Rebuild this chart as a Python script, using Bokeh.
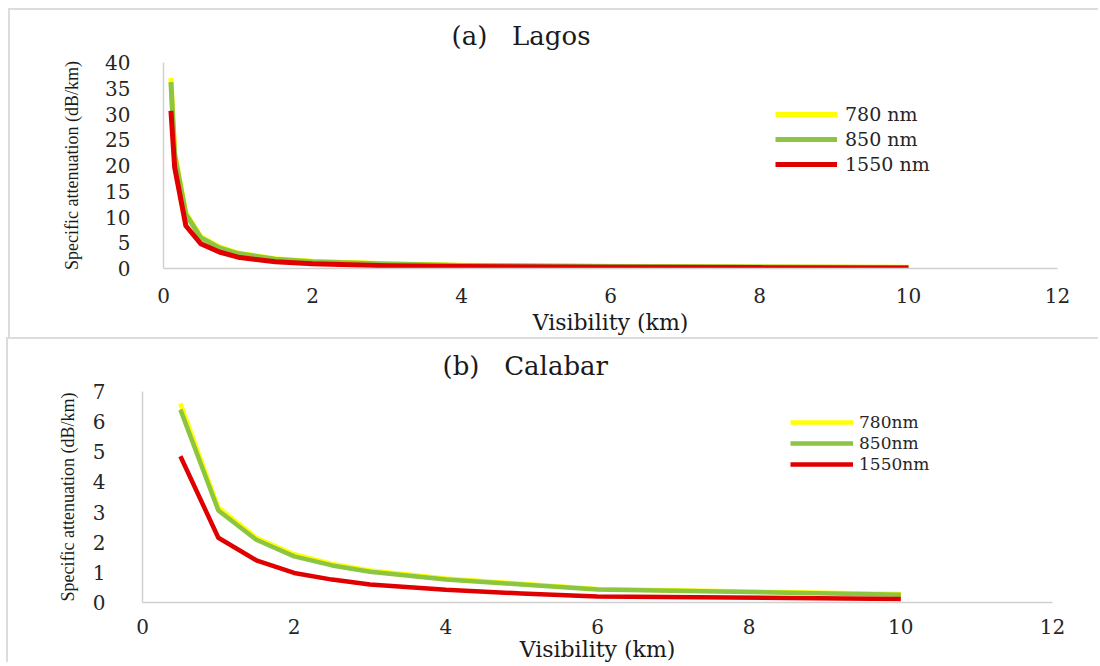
from bokeh.plotting import figure
from bokeh.models import Range1d, FixedTicker, Legend, LegendItem
from bokeh.layouts import column
from bokeh.embed import file_html
from bokeh.resources import INLINE

# ---------------- data ----------------
lagos_vis = [0.1, 0.15, 0.3, 0.5, 0.75, 1, 1.5, 2, 3, 4, 6, 8, 10]
lagos_780 = [37.0, 22.5, 10.8, 6.2, 4.2, 3.0, 1.9, 1.4, 0.9, 0.65, 0.42, 0.3, 0.22]
lagos_850 = [36.2, 22.0, 10.5, 6.0, 4.0, 2.9, 1.8, 1.3, 0.85, 0.6, 0.4, 0.28, 0.2]
lagos_1550 = [30.6, 19.6, 8.3, 4.8, 3.2, 2.2, 1.3, 0.9, 0.55, 0.4, 0.25, 0.17, 0.12]

calabar_vis = [0.5, 1, 1.5, 2, 2.5, 3, 4, 5, 6, 10]
calabar_780 = [6.6, 3.15, 2.15, 1.6, 1.28, 1.06, 0.8, 0.62, 0.45, 0.28]
calabar_850 = [6.4, 3.05, 2.08, 1.53, 1.23, 1.02, 0.76, 0.6, 0.43, 0.26]
calabar_1550 = [4.85, 2.15, 1.4, 0.98, 0.76, 0.6, 0.42, 0.3, 0.2, 0.12]

x_ticks = [0, 2, 4, 6, 8, 10, 12]
lagos_y_ticks = [0, 5, 10, 15, 20, 25, 30, 35, 40]
calabar_y_ticks = [0, 1, 2, 3, 4, 5, 6, 7]

lagos_labels = ["780 nm", "850 nm", "1550 nm"]
calabar_labels = ["780nm", "850nm", "1550nm"]
colors = ["#ffff00", "#8cc540", "#e00000"]

title_a = "(a)\u00a0\u00a0\u00a0Lagos"
title_b = "(b)\u00a0\u00a0\u00a0Calabar"

SERIF = "DejaVu Serif"
NARROW = "Liberation Serif"
BORDER = "2px solid #dcdcdc"


def style(p, yticks, ylabel_standoff, xtick_standoff, xlabel_standoff, ytick_standoff):
    p.toolbar_location = None
    p.frame_align = False
    p.xgrid.visible = False
    p.ygrid.visible = False
    p.outline_line_color = None
    p.background_fill_color = "white"
    p.border_fill_color = "white"
    p.xaxis.ticker = FixedTicker(ticks=x_ticks)
    p.yaxis.ticker = FixedTicker(ticks=yticks)
    for ax in (p.xaxis[0], p.yaxis[0]):
        ax.axis_line_color = "#d0d0d0"
        ax.axis_line_width = 1.5
        ax.major_tick_line_color = None
        ax.minor_tick_line_color = None
        ax.major_label_text_font = SERIF
        ax.major_label_text_font_size = "20px"
        ax.major_label_text_color = "#262626"
        ax.axis_label_text_color = "#1a1a1a"
        ax.axis_label_text_font_style = "normal"
    p.xaxis.axis_label = "Visibility (km)"
    p.xaxis.axis_label_text_font = SERIF
    p.xaxis.axis_label_text_font_size = "22px"
    p.xaxis.major_label_standoff = xtick_standoff
    p.xaxis.axis_label_standoff = xlabel_standoff
    p.yaxis.axis_label = "Specific attenuation (dB/km)"
    p.yaxis.axis_label_text_font = NARROW
    p.yaxis.axis_label_text_font_size = "18px"
    p.yaxis.major_label_standoff = ytick_standoff
    p.yaxis.axis_label_standoff = ylabel_standoff
    p.title.text_font = SERIF
    p.title.text_font_size = "26px"
    p.title.text_font_style = "normal"
    p.title.text_color = "#1a1a1a"
    p.title.align = "left"
    p.title.vertical_align = "top"


# ---------------- panel (a) ----------------
pa = figure(width=1090, height=329, output_backend="svg", toolbar_location=None,
            x_range=Range1d(0, 12), y_range=Range1d(0, 40),
            min_border_left=153, min_border_right=43, min_border_top=52,
            min_border_bottom=71, title=title_a)
style(pa, lagos_y_ticks, 20, 13, 4, 27)
pa.title.offset = 288
pa.title.standoff = 20
pa.margin = (8, 0, 0, 8)
pa.styles = {"border-top": BORDER, "border-left": BORDER}

ra = []
for ys, c in zip([lagos_780, lagos_850, lagos_1550], colors):
    ra.append(pa.line(lagos_vis, ys, line_color=c, line_width=5, line_join="round"))

leg_a = Legend(items=[LegendItem(label=l, renderers=[r]) for l, r in zip(lagos_labels, ra)],
               location=(612, 93))
leg_a.glyph_width = 62
leg_a.glyph_height = 22
leg_a.label_height = 22
leg_a.spacing = 3
leg_a.padding = 0
leg_a.margin = 0
leg_a.label_standoff = 8
leg_a.border_line_color = None
leg_a.background_fill_alpha = 0
leg_a.label_text_font = SERIF
leg_a.label_text_font_size = "19px"
leg_a.label_text_color = "#262626"
pa.add_layout(leg_a)

# ---------------- panel (b) ----------------
pb = figure(width=1092, height=325, output_backend="svg", toolbar_location=None,
            x_range=Range1d(0, 12), y_range=Range1d(0, 7),
            min_border_left=134, min_border_right=48, min_border_top=52,
            min_border_bottom=60, title=title_b)
style(pb, calabar_y_ticks, 12, 10, 0, 31)
pb.title.offset = 300
pb.title.standoff = 17
pb.margin = (0, 0, 0, 6)
pb.styles = {"border-top": BORDER, "border-left": BORDER}

rb = []
for ys, c in zip([calabar_780, calabar_850, calabar_1550], colors):
    rb.append(pb.line(calabar_vis, ys, line_color=c, line_width=4.5, line_join="round"))

leg_b = Legend(items=[LegendItem(label=l, renderers=[r]) for l, r in zip(calabar_labels, rb)],
               location=(648, 128))
leg_b.glyph_width = 63
leg_b.glyph_height = 20
leg_b.label_height = 20
leg_b.spacing = 1
leg_b.padding = 0
leg_b.margin = 0
leg_b.label_standoff = 6
leg_b.border_line_color = None
leg_b.background_fill_alpha = 0
leg_b.label_text_font = SERIF
leg_b.label_text_font_size = "17px"
leg_b.label_text_color = "#262626"
pb.add_layout(leg_b)

layout = column(pa, pb, spacing=0)
open("out.html", "w").write(file_html(layout, INLINE))
